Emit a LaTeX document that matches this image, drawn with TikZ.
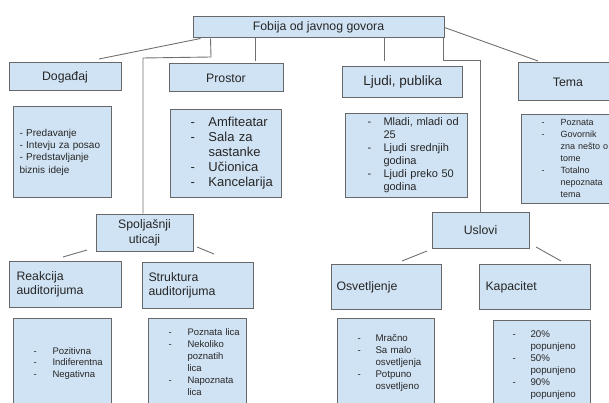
\documentclass[tikz,border=0pt]{standalone}
\usepackage{fontspec}
\setmainfont{Liberation Sans}
\definecolor{boxfill}{HTML}{D0E3F4}
\definecolor{boxline}{HTML}{686868}
\definecolor{linkgray}{HTML}{707070}
\newcommand{\fs}[2]{\fontsize{#1}{#2}\selectfont}

\begin{document}
\begin{tikzpicture}[x=1pt, y=-1pt,
  box/.style={draw=boxline, fill=boxfill, line width=1pt, inner sep=0pt, text=black!85},
  head/.style={box, font=\fs{12.3}{15}, align=center},
  lhead/.style={box, anchor=north west, font=\fs{12.3}{14.5}, align=left},
  lst/.style={box, anchor=north west, align=left},
  link/.style={draw=linkgray, line width=0.9pt}]
\useasboundingbox (0,0) rectangle (609,403);
\clip (0,0) rectangle (609,403);
% top row
\node[head, minimum width=251pt, minimum height=21pt] (fobija) at (318.5,27.5) {Fobija od javnog govora};
\node[head, minimum width=112pt, minimum height=28pt] (dogadjaj) at (65,77) {Događaj};
\node[head, minimum width=114pt, minimum height=28pt] (prostor) at (226,78) {Prostor};
\node[head, minimum width=120pt, minimum height=31pt, font=\fs{13.5}{16}] (ljudi) at (402.75,82.5) {Ljudi, publika};
\node[head, minimum width=100pt, minimum height=38pt] (tema) at (568,82) {Tema};
% lists under the top row
\node[lst, text width=86pt, inner xsep=6pt, minimum height=91pt, font=\fs{10}{12.3}] (dogadjajList) at (13,106)
  {- Predavanje\\- Intevju za posao\\- Predstavljanje\\biznis ideje};
\node[lst, text width=111pt, minimum height=88pt, font=\fs{13}{15}] (prostorList) at (170,109)
  {\begin{tabular}{@{\hspace{20pt}}p{18pt}@{}l@{}}
   -&Amfiteatar\\ -&Sala za\\ &sastanke\\ -&Učionica\\ -&Kancelarija
   \end{tabular}};
\node[lst, text width=122pt, minimum height=84pt, font=\fs{11}{13}] (ljudiList) at (345,113)
  {\begin{tabular}{@{\hspace{22pt}}p{16pt}@{}l@{}}
   -&Mladi, mladi od\\ &25\\ -&Ljudi srednjih\\ &godina\\ -&Ljudi preko 50\\ &godina
   \end{tabular}};
\node[lst, text width=104pt, minimum height=89pt, font=\fs{9}{12}] (temaList) at (521,114)
  {\begin{tabular}{@{\hspace{20pt}}p{19pt}@{}l@{}}
   -&Poznata\\ -&Govornik\\ &zna nešto o\\ &tome\\ -&Totalno\\ &nepoznata\\ &tema
   \end{tabular}};
% second level
\node[head, minimum width=97pt, minimum height=37pt] (spoljasnji) at (144.5,232.5) {Spoljašnji\\uticaji};
\node[head, minimum width=97pt, minimum height=36pt] (uslovi) at (480.5,230) {Uslovi};
\node[lhead, text width=98pt, inner xsep=7pt, minimum height=46pt] (reakcija) at (9,261) {Reakcija\\auditorijuma};
\node[lhead, text width=99pt, inner xsep=6pt, minimum height=46pt] (struktura) at (142,262) {Struktura\\auditorijuma};
\node[lhead, text width=100pt, inner xsep=5pt, minimum height=45pt] (osvetljenje) at (331,264) {Osvetljenje};
\node[lhead, text width=99pt, inner xsep=6pt, minimum height=45pt] (kapacitet) at (479,264) {Kapacitet};
% bottom lists
\node[lst, text width=98pt, minimum height=90pt, font=\fs{9.5}{11.7}] (reakcijaList) at (13,318)
  {\begin{tabular}{@{\hspace{20pt}}p{19pt}@{}l@{}}
   -&Pozitivna\\ -&Indiferentna\\ -&Negativna
   \end{tabular}};
\node[lst, text width=98pt, minimum height=90pt, font=\fs{9.5}{12}] (strukturaList) at (148,318)
  {\begin{tabular}{@{\hspace{20pt}}p{19pt}@{}l@{}}
   -&Poznata lica\\ -&Nekoliko\\ &poznatih\\ &lica\\ -&Napoznata\\ &lica
   \end{tabular}};
\node[lst, text width=97pt, minimum height=90pt, font=\fs{9.7}{12}] (osvetljenjeList) at (337,318)
  {\begin{tabular}{@{\hspace{20pt}}p{18pt}@{}l@{}}
   -&Mračno\\ -&Sa malo\\ &osvetljenja\\ -&Potpuno\\ &osvetljeno
   \end{tabular}};
\node[lst, text width=97pt, minimum height=89pt, font=\fs{9.7}{12}] (kapacitetList) at (493,320)
  {\begin{tabular}{@{\hspace{19pt}}p{18pt}@{}l@{}}
   -&20\%\\ &popunjeno\\ -&50\%\\ &popunjeno\\ -&90\%\\ &popunjeno
   \end{tabular}};
% connectors
\coordinate (dogadjajTip) at (99,59);
\coordinate (spoljBend) at (211,57);
\coordinate (spoljCorner) at (143,58);
\coordinate (prostorTip) at (255.5,61);
\coordinate (ljudiTip) at (384,61);
\coordinate (uslBend) at (443,60);
\coordinate (uslCorner) at (480.5,60);
\coordinate (temaTip) at (538,61);
\draw[link] ([xshift=8pt]fobija.south west) -- (dogadjajTip);
\draw[link] ([xshift=18pt]fobija.south west) -- (spoljBend) -- (spoljCorner) -- (spoljCorner |- spoljasnji.north);
\draw[link] (fobija.south -| prostorTip) -- (prostorTip);
\draw[link] (fobija.south -| ljudiTip) -- (ljudiTip);
\draw[link] (fobija.south -| uslBend) -- (uslBend) -- (uslCorner) -- (uslovi.north);
\draw[link] (fobija.east) -- (temaTip);
\coordinate (spoljLeft) at (87,250);
\coordinate (reakcijaTip) at (63,257);
\coordinate (spoljRight) at (197,247);
\coordinate (strukturaTip) at (214,254);
\coordinate (uslLeft) at (427,251);
\coordinate (osvetljenjeTip) at (402,261);
\coordinate (uslRight) at (536,247);
\coordinate (kapacitetTip) at (561,261);
\draw[link] (spoljLeft) -- (reakcijaTip);
\draw[link] (spoljRight) -- (strukturaTip);
\draw[link] (uslLeft) -- (osvetljenjeTip);
\draw[link] (uslRight) -- (kapacitetTip);
\end{tikzpicture}
\end{document}
